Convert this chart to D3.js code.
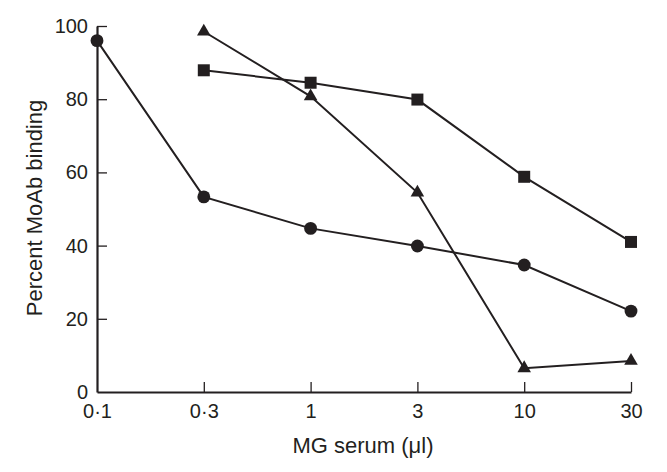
<!DOCTYPE html>
<html>
<head>
<meta charset="utf-8">
<script src="https://cdn.jsdelivr.net/npm/d3@7"></script>
<style>
  body { margin: 0; background: #fff; }
  svg { font-family: "Liberation Sans", Arial, Helvetica, sans-serif; }
</style>
</head>
<body>
<div id="chart"></div>
<script>
// categories on the x axis (evenly spaced doses)
var doses = ["0·1", "0·3", "1", "3", "10", "30"];

// series values, percent MoAb binding
var circleVals = [96, 53.3, 44.7, 39.9, 34.7, 22.1];
var squareVals = [null, 87.9, 84.5, 79.9, 58.8, 41];
var triangleVals = [null, 98.5, 80.8, 54.5, 6.5, 8.5];

var yTicks = [0, 20, 40, 60, 80, 100];

var W = 667, H = 472;
var svg = d3.select('#chart').append('svg')
	.attr('width', W)
	.attr('height', H);

var x = d3.scalePoint().domain(doses).range([97, 631]);
var y = d3.scaleLinear().domain([0, 100]).range([392, 26]);

var ink = '#231f20';

// axes
var gx = svg.append('g')
	.attr('transform', 'translate(0,392)')
	.call(d3.axisBottom(x).tickSizeInner(-10).tickSizeOuter(0).tickPadding(12));
var gy = svg.append('g')
	.attr('transform', 'translate(97,0)')
	.call(d3.axisLeft(y).tickValues(yTicks).tickSizeInner(-10).tickSizeOuter(0).tickPadding(9));

[gx, gy].forEach(function(g){
	g.select('.domain').attr('stroke', ink).attr('stroke-width', 2.2);
	g.selectAll('.tick line').attr('stroke', ink).attr('stroke-width', 1.3);
	g.selectAll('.tick text').attr('fill', ink).style('font-size', '20px');
});
// no tick drawn at the axis corner
gx.selectAll('.tick').filter(function(d){ return d == "0·1"; }).select('line').remove();
gy.selectAll('.tick').filter(function(d){ return d == 0; }).select('line').remove();
gx.selectAll('.tick text').attr('dy', '0.71em');

// axis titles
svg.append('text')
	.attr('x', 363).attr('y', 453)
	.attr('text-anchor', 'middle')
	.attr('fill', ink)
	.style('font-size', '22px')
	.text('MG serum (μl)');

svg.append('text')
	.attr('transform', 'translate(42,208) rotate(-90)')
	.attr('text-anchor', 'middle')
	.attr('fill', ink)
	.style('font-size', '22px')
	.text('Percent MoAb binding');

// series
var series = [
	{ vals: squareVals, shape: d3.symbolSquare, size: 144 },
	{ vals: triangleVals, shape: d3.symbolTriangle, size: 80 },
	{ vals: circleVals, shape: d3.symbolCircle, size: 130 }
];

var line = d3.line()
	.defined(function(d){ return d.v != null; })
	.x(function(d){ return x(d.k); })
	.y(function(d){ return y(d.v); });

series.forEach(function(s){
	var pts = doses.map(function(k, i){ return { k: k, v: s.vals[i] }; });
	svg.append('path')
		.datum(pts)
		.attr('d', line)
		.attr('fill', 'none')
		.attr('stroke', ink)
		.attr('stroke-width', 2);

	svg.append('g').selectAll('path')
		.data(pts.filter(function(d){ return d.v != null; }))
		.enter().append('path')
		.attr('transform', function(d){ return 'translate(' + x(d.k) + ',' + y(d.v) + ')'; })
		.attr('d', d3.symbol().type(s.shape).size(s.size))
		.attr('fill', ink);
});
</script>
</body>
</html>
